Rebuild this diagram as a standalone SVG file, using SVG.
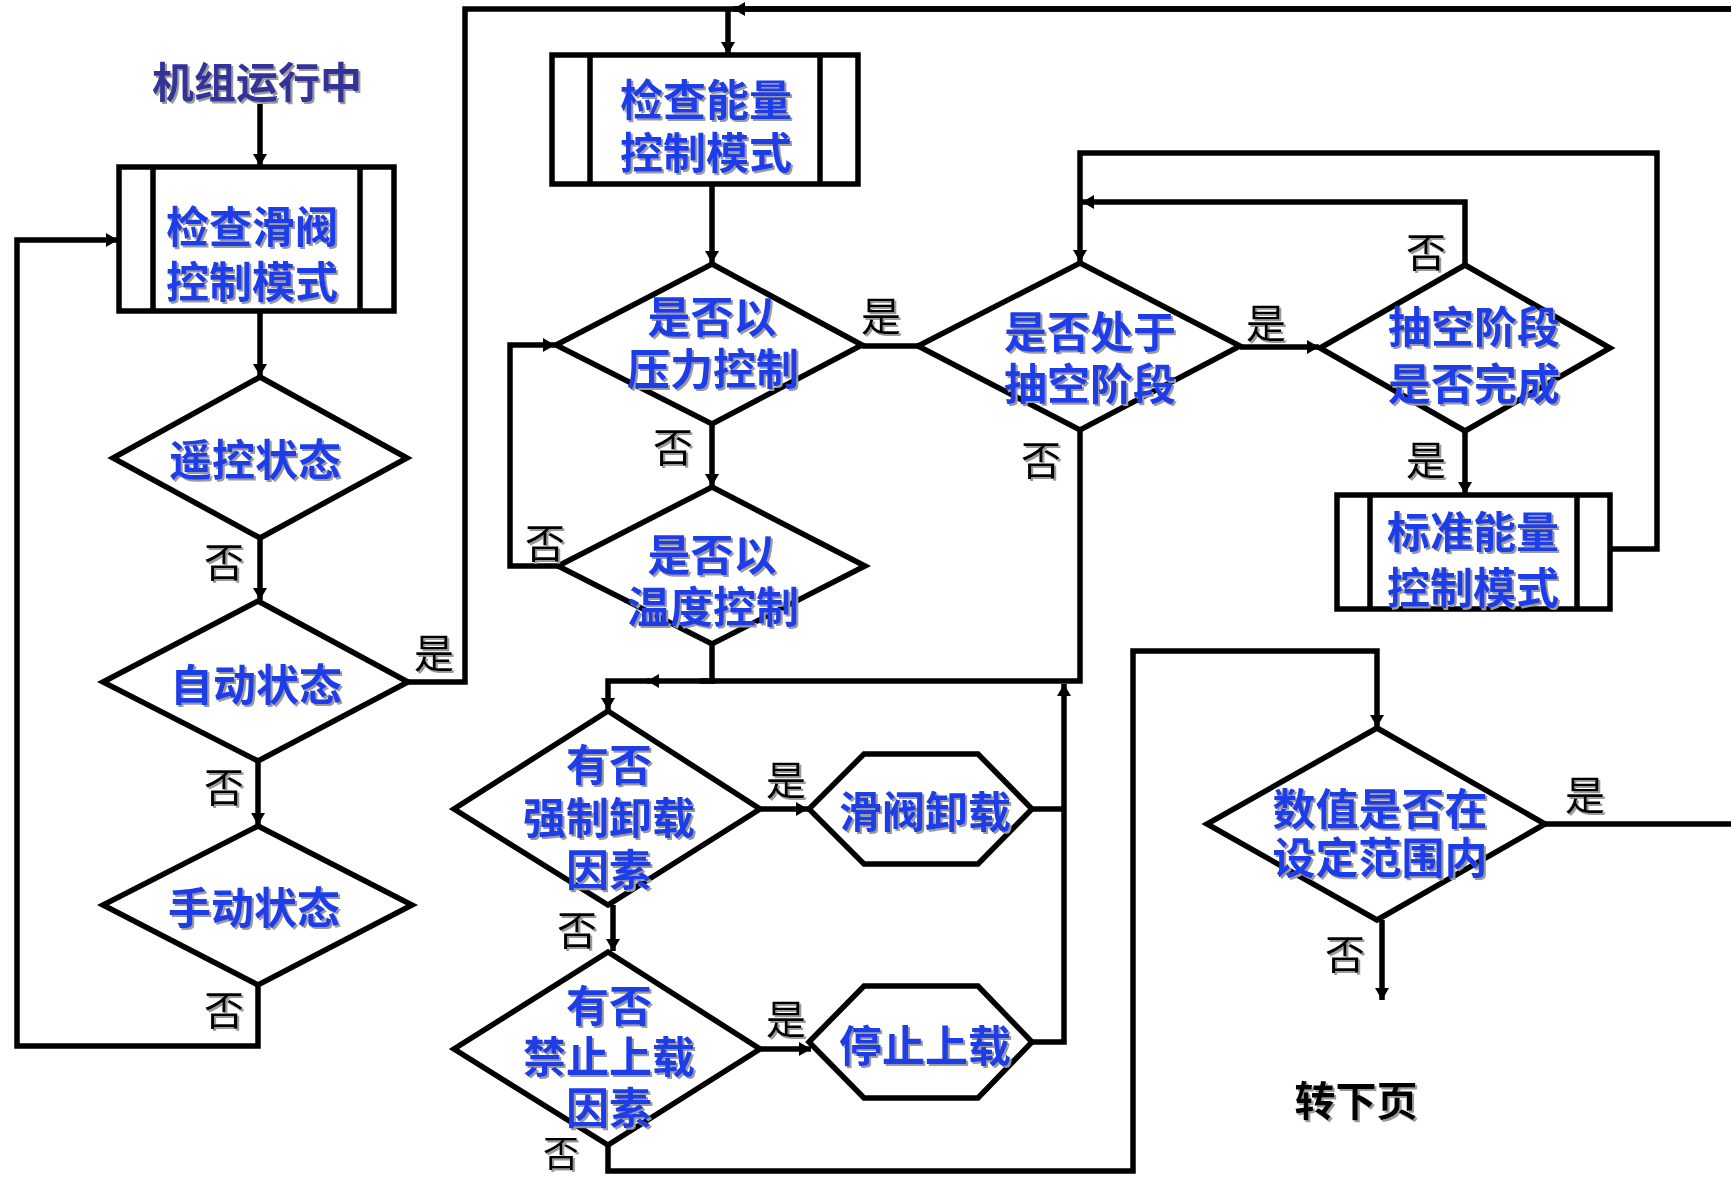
<svg xmlns="http://www.w3.org/2000/svg" width="1731" height="1180" viewBox="0 0 1731 1180">
<style>
.shape{fill:#fff;stroke:#000;stroke-width:5.5;stroke-linejoin:miter}
.ln{fill:none;stroke:#000;stroke-width:5.5;stroke-linejoin:miter}
.arr{marker-end:url(#ah)}
.t{font-family:"Noto Sans CJK SC","Liberation Sans",sans-serif;font-weight:bold;font-size:43px;fill:#1a3de8;text-anchor:middle;dominant-baseline:central;filter:url(#sh)}
.title{font-family:"Noto Sans CJK SC","Liberation Sans",sans-serif;font-weight:bold;font-size:42px;fill:#333399;text-anchor:middle;dominant-baseline:central;filter:url(#sh)}
.lb{font-family:"Noto Sans CJK SC","Liberation Sans",sans-serif;font-weight:normal;font-size:40px;fill:#000;text-anchor:middle;dominant-baseline:central;filter:url(#sh)}
.nx{font-family:"Noto Sans CJK SC","Liberation Sans",sans-serif;font-weight:bold;font-size:41px;fill:#000;text-anchor:middle;dominant-baseline:central;filter:url(#sh)}
</style>
<defs>
<marker id="ah" markerUnits="userSpaceOnUse" markerWidth="14" markerHeight="14" refX="12" refY="7" orient="auto">
<path d="M0,0 L12,7 L0,14 z" fill="#000"/>
</marker>
<filter id="sh" x="-10%" y="-10%" width="120%" height="130%">
<feDropShadow dx="2" dy="2" stdDeviation="0.6" flood-color="#9a9a9a" flood-opacity="1"/>
</filter>
</defs>
<rect width="1731" height="1180" fill="#fff"/>

<g id="connectors">
<path class="ln arr" d="M260,104 V166"/>
<path class="ln arr" d="M260,311 V376"/>
<path class="ln arr" d="M260,538 V600"/>
<path class="ln" d="M408,682 H465 V9 H1731"/>
<path class="ln arr" d="M1731,9 H733"/>
<path class="ln arr" d="M728,9 V54"/>
<path class="ln arr" d="M258,761 V825"/>
<path class="ln arr" d="M258,985 V1046 H17 V240 H118"/>
<path class="ln arr" d="M712,184 V263"/>
<path class="ln" d="M862,346 H935"/>
<path class="ln arr" d="M938,346 H922"/>
<path class="ln arr" d="M1240,347 H1319"/>
<path class="ln arr" d="M1465,265 V202 H1082"/>
<path class="ln arr" d="M1465,431 V494"/>
<path class="ln arr" d="M1610,549 H1657 V153 H1080 V262"/>
<path class="ln arr" d="M712,424 V486"/>
<path class="ln arr" d="M558,566 H510 V345 H555"/>
<path class="ln" d="M712,644 V681"/>
<path class="ln" d="M1080,430 V681 H700"/>
<path class="ln arr" d="M715,681 H647"/>
<path class="ln arr" d="M650,681 H608 V710"/>
<path class="ln arr" d="M760,809 H808"/>
<path class="ln" d="M1032,809 H1064"/>
<path class="ln arr" d="M613,905 V951"/>
<path class="ln arr" d="M760,1049 H811"/>
<path class="ln arr" d="M1032,1042 H1064 V684"/>
<path class="ln arr" d="M608,1145 V1171 H1133 V651 H1377 V727"/>
<path class="ln" d="M1545,824 H1731"/>
<path class="ln arr" d="M1382,920 V1000"/>
</g>

<g id="start">
<text class="title" x="257" y="79">机组运行中</text>
</g>

<g id="box-slide-valve">
<rect class="shape" x="119" y="167" width="275" height="144"/>
<path class="ln" d="M153,167 V311 M360,167 V311"/>
<text class="t" x="252" y="224">检查滑阀</text>
<text class="t" x="252" y="279">控制模式</text>
</g>

<g id="d-remote">
<polygon class="shape" points="260,377 407,458 260,538 113,458"/>
<text class="t" x="255" y="457">遥控状态</text>
</g>

<g id="d-auto">
<polygon class="shape" points="258,601 408,682 258,761 103,682"/>
<text class="t" x="256" y="682">自动状态</text>
</g>

<g id="d-manual">
<polygon class="shape" points="258,826 412,905 258,985 103,905"/>
<text class="t" x="254" y="905">手动状态</text>
</g>

<g id="box-energy">
<rect class="shape" x="552" y="55" width="306" height="129"/>
<path class="ln" d="M590,55 V184 M820,55 V184"/>
<text class="t" x="706" y="97">检查能量</text>
<text class="t" x="706" y="150">控制模式</text>
</g>

<g id="d-pressure">
<polygon class="shape" points="712,264 862,345 712,424 556,345"/>
<text class="t" x="712" y="314">是否以</text>
<text class="t" x="713" y="366">压力控制</text>
</g>

<g id="d-temp">
<polygon class="shape" points="712,487 865,566 712,644 558,566"/>
<text class="t" x="712" y="552">是否以</text>
<text class="t" x="713" y="604">温度控制</text>
</g>

<g id="d-pumpdown">
<polygon class="shape" points="1080,263 1240,346 1080,430 918,346"/>
<text class="t" x="1090" y="329">是否处于</text>
<text class="t" x="1090" y="381">抽空阶段</text>
</g>

<g id="d-pumpdone">
<polygon class="shape" points="1465,265 1610,348 1465,431 1320,348"/>
<text class="t" x="1474" y="324">抽空阶段</text>
<text class="t" x="1474" y="381">是否完成</text>
</g>

<g id="box-standard">
<rect class="shape" x="1337" y="495" width="273" height="114"/>
<path class="ln" d="M1370,495 V609 M1577,495 V609"/>
<text class="t" x="1473" y="529">标准能量</text>
<text class="t" x="1473" y="585">控制模式</text>
</g>

<g id="d-forced">
<polygon class="shape" points="608,711 760,809 608,905 454,809"/>
<text class="t" x="609" y="762">有否</text>
<text class="t" x="609" y="815">强制卸载</text>
<text class="t" x="609" y="867">因素</text>
</g>

<g id="h-unload">
<polygon class="shape" points="809,809 864,754 978,754 1032,809 978,864 864,864"/>
<text class="t" x="925" y="809">滑阀卸载</text>
</g>

<g id="d-inhibit">
<polygon class="shape" points="608,952 760,1049 608,1145 454,1049"/>
<text class="t" x="609" y="1003">有否</text>
<text class="t" x="609" y="1054">禁止上载</text>
<text class="t" x="609" y="1105">因素</text>
</g>

<g id="h-stop">
<polygon class="shape" points="809,1042 864,986 978,986 1032,1042 978,1098 864,1098"/>
<text class="t" x="925" y="1043">停止上载</text>
</g>

<g id="d-range">
<polygon class="shape" points="1377,728 1545,824 1377,920 1207,824"/>
<text class="t" x="1380" y="806">数值是否在</text>
<text class="t" x="1380" y="855">设定范围内</text>
</g>

<g id="next-page">
<text class="nx" x="1356" y="1098">转下页</text>
</g>

<g id="labels">
<text class="lb" x="224" y="560">否</text>
<text class="lb" x="434" y="651">是</text>
<text class="lb" x="224" y="785">否</text>
<text class="lb" x="224" y="1008">否</text>
<text class="lb" x="881" y="314">是</text>
<text class="lb" x="673" y="445">否</text>
<text class="lb" x="545" y="541">否</text>
<text class="lb" x="1266" y="321">是</text>
<text class="lb" x="1426" y="250">否</text>
<text class="lb" x="1426" y="458">是</text>
<text class="lb" x="1041" y="458">否</text>
<text class="lb" x="786" y="778">是</text>
<text class="lb" x="577" y="928">否</text>
<text class="lb" x="786" y="1017">是</text>
<text class="lb" x="561" y="1151" style="font-size:36px">否</text>
<text class="lb" x="1585" y="793">是</text>
<text class="lb" x="1345" y="952">否</text>
</g>
</svg>
